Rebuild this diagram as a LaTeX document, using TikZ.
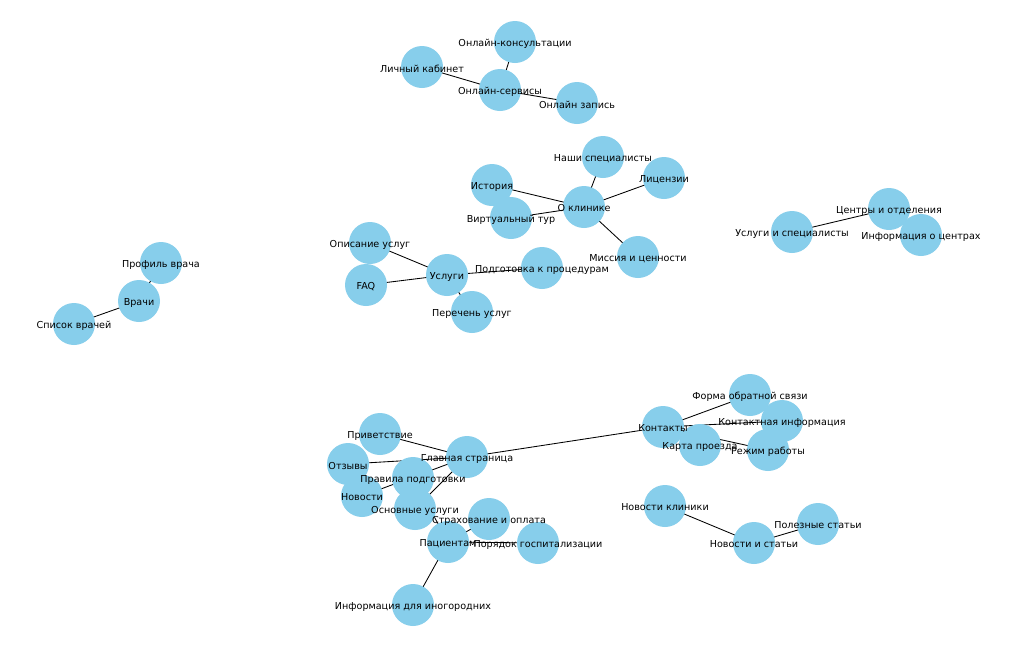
\documentclass[tikz,border=0pt]{standalone}
\usepackage{fontspec}
\setmainfont{DejaVu Sans}
\usetikzlibrary{backgrounds}
\pgfdeclarelayer{fg}
\pgfsetlayers{background,main,fg}
\definecolor{skyb}{HTML}{87CEEB}
\tikzset{
  vnode/.style={circle,fill=skyb,draw=none,minimum size=42pt,inner sep=0pt},
  vlabel/.style={inner sep=0pt,font=\fontsize{9.6}{11}\selectfont,text=black,yshift=-1.5pt},
  edge/.style={draw=black,line width=0.85pt}
}
\newcommand\gnode[4]{\node[vnode] (#1) at (#2,#3) {};\begin{pgfonlayer}{fg}\node[vlabel] (#1-l) at (#1.center) {#4};\end{pgfonlayer}}
\begin{document}
\begin{tikzpicture}[x=1pt,y=-1pt]
\useasboundingbox (0,0) rectangle (1010,651);
\gnode{oc}{515}{42}{Онлайн-консультации}
\gnode{lk}{422}{67}{Личный кабинет}
\gnode{os}{500}{90}{Онлайн-сервисы}
\gnode{oz}{577}{103}{Онлайн запись}
\gnode{ns}{603}{157}{Наши специалисты}
\gnode{hi}{492}{185}{История}
\gnode{li}{664}{178}{Лицензии}
\gnode{vt}{511}{218}{Виртуальный тур}
\gnode{ok}{584}{207}{О клинике}
\gnode{mc}{638}{257}{Миссия и ценности}
\gnode{ou}{370}{243}{Описание услуг}
\gnode{faq}{366}{285}{FAQ}
\gnode{us}{447}{275}{Услуги}
\gnode{pp}{542}{268}{Подготовка к процедурам}
\gnode{pu}{472}{312}{Перечень услуг}
\gnode{pv}{161}{263}{Профиль врача}
\gnode{vr}{139}{301}{Врачи}
\gnode{sv}{74}{324}{Список врачей}
\gnode{co}{889}{209}{Центры и отделения}
\gnode{uis}{792}{232}{Услуги и специалисты}
\gnode{ic}{921}{235}{Информация о центрах}
\gnode{fo}{750}{395}{Форма обратной связи}
\gnode{ko}{663}{427}{Контакты}
\gnode{ki}{782}{421}{Контактная информация}
\gnode{kp}{700}{445}{Карта проезда}
\gnode{rr}{768}{450}{Режим работы}
\gnode{pr}{380}{434}{Приветствие}
\gnode{gs}{467}{457}{Главная страница}
\gnode{ot}{348}{464}{Отзывы}
\gnode{pravp}{413}{478}{Правила подготовки}
\gnode{nov}{362}{496}{Новости}
\gnode{osu}{415}{509}{Основные услуги}
\gnode{so}{489}{519}{Страхование и оплата}
\gnode{pac}{448}{542}{Пациентам}
\gnode{pg}{538}{543}{Порядок госпитализации}
\gnode{ii}{413}{605}{Информация для иногородних}
\gnode{nk}{665}{506}{Новости клиники}
\gnode{nis}{754}{543}{Новости и статьи}
\gnode{ps}{818}{524}{Полезные статьи}
\begin{scope}[on background layer]
\fill[white] (0,0) rectangle (1010,651);
\draw[edge] (os.center) -- (oc.center);
\draw[edge] (os.center) -- (lk.center);
\draw[edge] (os.center) -- (oz.center);
\draw[edge] (ok.center) -- (ns.center);
\draw[edge] (ok.center) -- (hi.center);
\draw[edge] (ok.center) -- (li.center);
\draw[edge] (ok.center) -- (vt.center);
\draw[edge] (ok.center) -- (mc.center);
\draw[edge] (us.center) -- (ou.center);
\draw[edge] (us.center) -- (faq.center);
\draw[edge] (us.center) -- (pp.center);
\draw[edge] (us.center) -- (pu.center);
\draw[edge] (vr.center) -- (pv.center);
\draw[edge] (vr.center) -- (sv.center);
\draw[edge] (co.center) -- (uis.center);
\draw[edge] (co.center) -- (ic.center);
\draw[edge] (ko.center) -- (fo.center);
\draw[edge] (ko.center) -- (ki.center);
\draw[edge] (ko.center) -- (kp.center);
\draw[edge] (ko.center) -- (rr.center);
\draw[edge] (ko.center) -- (gs.center);
\draw[edge] (gs.center) -- (pr.center);
\draw[edge] (gs.center) -- (ot.center);
\draw[edge] (gs.center) -- (nov.center);
\draw[edge] (gs.center) -- (osu.center);
\draw[edge] (pac.center) -- (pravp.center);
\draw[edge] (pac.center) -- (so.center);
\draw[edge] (pac.center) -- (pg.center);
\draw[edge] (pac.center) -- (ii.center);
\draw[edge] (nis.center) -- (nk.center);
\draw[edge] (nis.center) -- (ps.center);
\end{scope}
\end{tikzpicture}
\end{document}
